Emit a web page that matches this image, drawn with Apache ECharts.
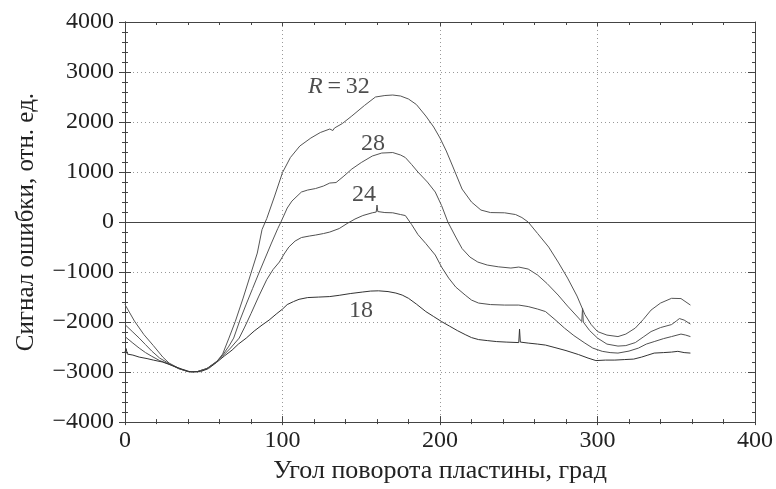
<!DOCTYPE html>
<html style="height: 100%">
<head>
    <meta charset="utf-8">
    <script src="https://cdn.jsdelivr.net/npm/echarts@6/dist/echarts.min.js"></script>
</head>
<body style="height: 100%; margin: 0; background: #fff">
    <div id="container" style="width: 776px; height: 489px"></div>
    <script type="text/javascript">
        // curves: [angle, signal]
        var r32 = [[0,-1650],[6,-1980],[12,-2250],[18,-2470],[24,-2700],[28,-2820],[34,-2920],[40,-2990],[46,-2990],[52,-2930],[58,-2800],[62,-2640],[66,-2320],[70,-1990],[75,-1520],[80,-1020],[84,-620],[87,-150],[90,70],[95,520],[100,990],[105,1290],[111,1520],[118,1680],[124,1790],[130,1860],[132,1830],[133,1880],[138,1970],[144,2120],[152,2330],[159,2500],[165,2530],[170,2540],[175,2520],[180,2460],[185,2350],[191,2120],[196,1900],[200,1680],[204,1420],[208,1120],[214,660],[220,400],[226,240],[232,190],[241,185],[248,150],[252,90],[256,0],[262,-230],[269,-500],[275,-800],[281,-1120],[287,-1480],[292,-1850],[296,-2050],[300,-2190],[306,-2260],[313,-2290],[318,-2240],[324,-2120],[329,-1950],[334,-1760],[340,-1620],[347,-1525],[353,-1530],[359,-1660]];
        var r28 = [[0,-2050],[5,-2200],[9,-2320],[13,-2450],[17,-2580],[22,-2720],[28,-2830],[34,-2930],[40,-2990],[46,-2990],[52,-2930],[58,-2800],[62,-2660],[66,-2480],[69,-2320],[73,-1960],[77,-1640],[81,-1330],[85,-1020],[89,-720],[93,-420],[97,-130],[99,0],[103,280],[106,420],[112,600],[116,640],[121,670],[126,720],[130,780],[134,790],[139,920],[144,1060],[150,1190],[157,1320],[163,1380],[170,1390],[175,1340],[178,1290],[182,1150],[186,1000],[192,800],[197,600],[201,330],[205,0],[210,-300],[214,-530],[219,-700],[224,-800],[230,-860],[237,-895],[245,-920],[250,-900],[256,-940],[262,-1060],[268,-1230],[275,-1460],[281,-1680],[288,-1920],[290,-1990],[290.5,-1720],[291,-2000],[295,-2170],[300,-2320],[306,-2440],[313,-2480],[318,-2470],[324,-2410],[329,-2300],[334,-2190],[340,-2110],[347,-2050],[350,-1980],[352,-1930],[355,-1960],[359,-2040]];
        var r24 = [[0,-2290],[5,-2420],[9,-2520],[13,-2610],[17,-2684],[22,-2770],[28,-2840],[34,-2930],[40,-2990],[46,-2990],[52,-2930],[58,-2790],[62,-2680],[67,-2520],[72.5,-2320],[76,-2100],[80,-1830],[85,-1480],[90,-1150],[94,-950],[98,-800],[101,-640],[104,-500],[108,-380],[112,-310],[117,-280],[121,-260],[126,-230],[130,-200],[136,-130],[141,-30],[146,60],[151,130],[157,185],[159.5,200],[160,340],[160.5,210],[165,190],[170,185],[175,150],[178,130],[182,-50],[186,-250],[191,-430],[197,-660],[201,-900],[205.5,-1120],[210,-1300],[216,-1460],[220,-1560],[224.5,-1620],[232,-1650],[241,-1660],[250,-1660],[256,-1690],[262,-1740],[267,-1790],[273,-1950],[279,-2120],[285,-2270],[292,-2420],[297,-2520],[303,-2585],[308,-2610],[313,-2620],[320,-2580],[326,-2520],[331,-2440],[336,-2390],[342,-2330],[347,-2290],[353,-2240],[356,-2260],[359,-2290]];
        var r18 = [[0,-2600],[0.7,-2530],[1.5,-2640],[5,-2660],[9,-2700],[14,-2730],[18,-2760],[24,-2800],[30,-2870],[36,-2940],[42,-3000],[48,-2990],[53,-2930],[58,-2810],[63,-2680],[68,-2560],[72,-2440],[77,-2320],[82,-2180],[87,-2060],[91.5,-1960],[96,-1840],[100,-1740],[103,-1650],[107,-1590],[110.5,-1545],[116,-1510],[123,-1500],[130,-1490],[136,-1465],[143,-1430],[150.6,-1400],[156,-1380],[161,-1375],[167,-1390],[172,-1420],[176,-1460],[180,-1525],[185,-1640],[191,-1790],[196,-1890],[201,-1990],[206,-2080],[211,-2170],[216,-2250],[220,-2310],[224.5,-2350],[230,-2370],[236,-2390],[242,-2400],[250,-2410],[250.5,-2140],[251,-2400],[256,-2420],[262,-2440],[267,-2460],[273,-2510],[280,-2570],[288,-2650],[294,-2720],[299,-2770],[305,-2760],[311,-2760],[317,-2750],[323,-2740],[328,-2700],[332,-2660],[336,-2620],[342,-2610],[347,-2600],[351,-2585],[355,-2610],[359,-2620]];

        // curve labels: [angle, signal, text]
        var curveLabels = [[135.8, 2700, 'R=32'], [157.4, 1570, '28'], [151.7, 540, '24'], [149.8, -1770, '18']];

        var xTitle = 'Угол поворота пластины, град';
        var yTitle = 'Сигнал ошибки, отн. ед.';

        var serif = 'Liberation Serif';
        var ink = '#222';
        var axisColor = '#444';

        var dom = document.getElementById('container');
        var myChart = echarts.init(dom, null, { renderer: 'canvas' });

        function yFmt(v) {
            return v < 0 ? '\u2212' + (-v) : String(v);
        }

        function baseX(extra) {
            return Object.assign({
                type: 'value', min: 0, max: 400, interval: 100,
                axisLine: { show: true, onZero: false, lineStyle: { color: axisColor, width: 1 } },
                axisLabel: { show: false },
                splitLine: { show: false }
            }, extra);
        }
        function baseY(extra) {
            return Object.assign({
                type: 'value', min: -4000, max: 4000, interval: 1000,
                axisLine: { show: true, onZero: false, lineStyle: { color: axisColor, width: 1 } },
                axisLabel: { show: false },
                splitLine: { show: false }
            }, extra);
        }

        var dotted = { show: true, lineStyle: { color: '#999', width: 1, type: [1, 3] } };

        function curve(name, data, color) {
            return {
                name: name,
                type: 'line',
                data: data,
                showSymbol: false,
                symbol: 'none',
                lineStyle: { color: color, width: 1 },
                silent: true
            };
        }

        var option = {
            animation: false,
            backgroundColor: '#fff',
            grid: { left: 125, right: 19, top: 22, bottom: 64 },
            xAxis: [
                baseX({
                    position: 'bottom',
                    name: xTitle,
                    nameLocation: 'middle',
                    nameGap: 30,
                    nameTextStyle: { fontFamily: serif, fontSize: 26, color: ink },
                    axisTick: { show: true, inside: true, length: 6, lineStyle: { color: axisColor } },
                    minorTick: { show: true, splitNumber: 5, length: 3, lineStyle: { color: axisColor } },
                    axisLabel: { show: true, fontFamily: serif, fontSize: 24, color: ink, margin: 7 },
                    splitLine: dotted
                }),
                baseX({
                    position: 'bottom',
                    axisTick: { show: true, inside: false, length: 3, lineStyle: { color: axisColor } },
                    minorTick: { show: true, splitNumber: 5, length: 2, lineStyle: { color: axisColor } }
                }),
                baseX({
                    position: 'top',
                    axisTick: { show: true, inside: true, length: 4, lineStyle: { color: axisColor } },
                    minorTick: { show: true, splitNumber: 5, length: 3, lineStyle: { color: axisColor } }
                })
            ],
            yAxis: [
                baseY({
                    position: 'left',
                    name: yTitle,
                    nameLocation: 'middle',
                    nameGap: 86,
                    nameRotate: 90,
                    nameTextStyle: { fontFamily: serif, fontSize: 25, color: ink },
                    axisTick: { show: true, inside: true, length: 6, lineStyle: { color: axisColor } },
                    minorTick: { show: true, splitNumber: 5, length: 3, lineStyle: { color: axisColor } },
                    axisLabel: { show: true, fontFamily: serif, fontSize: 24, color: ink, margin: 11, formatter: yFmt },
                    splitLine: dotted
                }),
                baseY({
                    position: 'left',
                    axisTick: { show: true, inside: false, length: 6, lineStyle: { color: axisColor } },
                    minorTick: { show: true, splitNumber: 5, length: 3, lineStyle: { color: axisColor } }
                }),
                baseY({
                    position: 'right',
                    axisTick: { show: true, inside: true, length: 7, lineStyle: { color: axisColor } },
                    minorTick: { show: true, splitNumber: 5, length: 3, lineStyle: { color: axisColor } }
                })
            ],
            series: [
                Object.assign(curve('R32', r32, '#555'), {
                    markLine: {
                        silent: true,
                        symbol: 'none',
                        label: { show: false },
                        lineStyle: { color: axisColor, width: 1, type: 'solid' },
                        data: [{ yAxis: 0 }]
                    }
                }),
                curve('R28', r28, '#555'),
                curve('R24', r24, '#505050'),
                curve('R18', r18, '#333'),
                {
                    name: 'labels',
                    type: 'scatter',
                    symbolSize: 0,
                    silent: true,
                    data: curveLabels,
                    label: {
                        show: true,
                        position: 'inside',
                        fontFamily: serif,
                        fontSize: 24,
                        color: ink,
                        formatter: function (p) {
                            var t = p.data[2];
                            if (t.charAt(0) === 'R') {
                                return '{i|R}{n|\u2009=\u200932}';
                            }
                            return t;
                        },
                        rich: {
                            i: { fontFamily: serif, fontSize: 24, fontStyle: 'italic', color: ink },
                            n: { fontFamily: serif, fontSize: 24, color: ink }
                        }
                    }
                }
            ]
        };

        myChart.setOption(option);
    </script>
</body>
</html>
